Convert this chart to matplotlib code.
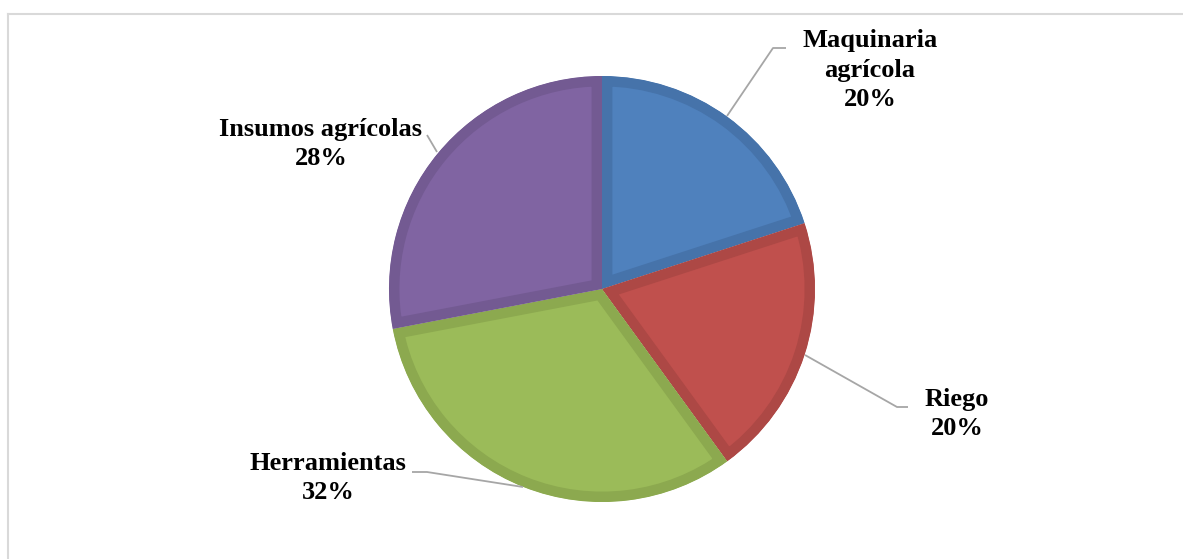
import matplotlib

matplotlib.use("Agg")
import matplotlib.pyplot as plt
from matplotlib.lines import Line2D

# data
categories = ["Maquinaria\nagrícola", "Riego", "Herramientas", "Insumos agrícolas"]
shares = [20, 20, 32, 28]
fill_colors = ["#4F81BD", "#C0504D", "#9BBB59", "#8064A2"]
edge_colors = ["#4673AA", "#AD4845", "#8CA94F", "#735A92"]

# layout in pixels (y grows downwards)
W, H = 1183, 559
CENTER = (602, 289)
RADIUS = 213
label_pos = [(870, 70), (957, 414), (328, 478), (321, 144)]
leaders = [
    [(727, 116), (773, 48), (786, 48)],
    [(805, 355), (897, 407), (908, 407)],
    [(523, 487), (427, 472), (412, 472)],
    [(437, 152), (427, 135)],
]

fig = plt.figure(figsize=(W / 100, H / 100), dpi=100)
ax = fig.add_axes([0, 0, 1, 1])

wedges, _ = ax.pie(
    shares,
    colors=fill_colors,
    startangle=-90,
    counterclock=True,
    center=CENTER,
    radius=RADIUS,
)
for wedge, edge in zip(wedges, edge_colors):
    # thick edge clipped to the wedge itself so only the inner band shows
    wedge.set_edgecolor(edge)
    wedge.set_linewidth(15)
    wedge.set_joinstyle("miter")
    wedge.set_clip_on(True)
    wedge.set_clip_path(wedge)

ax.set_xlim(0, W)
ax.set_ylim(H, 0)
ax.set_aspect("equal")
ax.axis("off")

for name, share, (x, y) in zip(categories, shares, label_pos):
    ax.text(
        x,
        y,
        f"{name}\n{share}%",
        ha="center",
        va="center",
        ma="center",
        fontsize=19,
        fontweight="bold",
        family="Liberation Serif",
        linespacing=1.36,
        color="black",
    )

for pts in leaders:
    xs, ys = zip(*pts)
    ax.plot(xs, ys, color="#A6A6A6", linewidth=1.3, solid_capstyle="butt")

# chart area border (top and left visible)
fig.add_artist(Line2D([7.5 / W, 1], [1 - 13.5 / H, 1 - 13.5 / H], color="#D9D9D9", linewidth=1.5, transform=fig.transFigure))
fig.add_artist(Line2D([7.5 / W, 7.5 / W], [0, 1 - 13.5 / H], color="#D9D9D9", linewidth=1.5, transform=fig.transFigure))

fig.savefig("out.png", dpi=100, facecolor="white")
